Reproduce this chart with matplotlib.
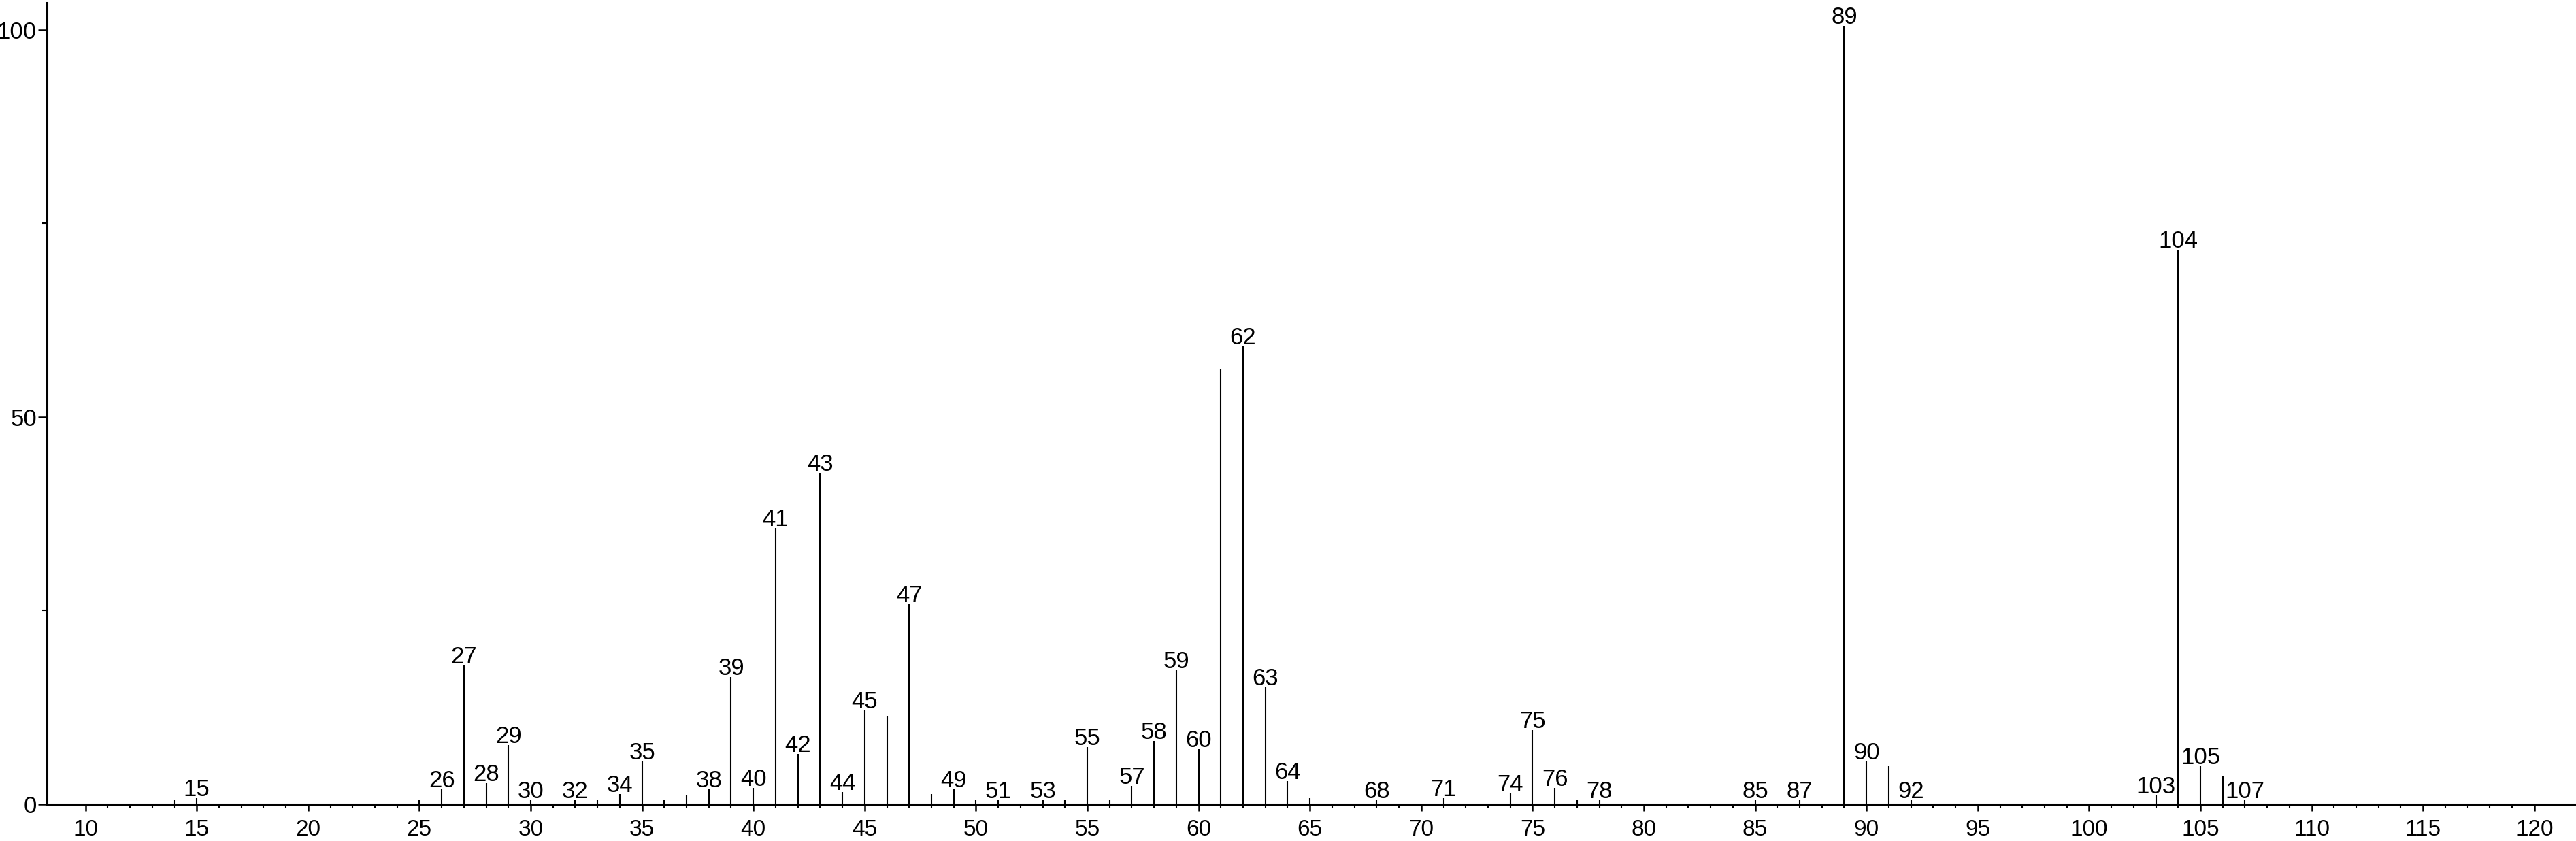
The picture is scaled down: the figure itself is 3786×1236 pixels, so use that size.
import matplotlib
matplotlib.use("Agg")
import matplotlib.pyplot as plt
import numpy as np

# Mass spectrum: m/z and relative intensity (%)
mz = [14, 15, 25, 26, 27, 28, 29, 30, 32, 33, 34, 35, 36, 37, 38, 39, 40,
      41, 42, 43, 44, 45, 46, 47, 48, 49, 50, 51, 53, 54, 55, 56, 57, 58,
      59, 60, 61, 62, 63, 64, 65, 68, 71, 74, 75, 76, 77, 78, 85, 87, 89,
      90, 91, 92, 103, 104, 105, 106, 107]
intensity = [0.5, 0.8, 0.5, 1.9, 17.9, 2.7, 7.6, 0.5, 0.5, 0.5, 1.3, 5.5,
             0.5, 1.1, 1.9, 16.4, 2.1, 35.7, 6.5, 42.8, 1.6, 12.1, 11.3,
             25.8, 1.35, 1.9, 0.5, 0.5, 0.5, 0.5, 7.4, 0.5, 2.4, 8.2, 17.3,
             7.1, 56.1, 59.1, 15.1, 3.0, 0.8, 0.5, 0.8, 1.4, 9.6, 2.1, 0.5,
             0.5, 0.5, 0.5, 100.5, 5.5, 4.9, 0.5, 1.1, 71.6, 4.9, 3.6, 0.5]
labeled = [15, 26, 27, 28, 29, 30, 32, 34, 35, 38, 39, 40, 41, 42, 43, 44,
           45, 47, 49, 51, 53, 55, 57, 58, 59, 60, 62, 63, 64, 68, 71, 74,
           75, 76, 78, 85, 87, 89, 90, 92, 103, 104, 105, 107]

x_major = list(range(10, 121, 5))
y_major = [0, 50, 100]
y_minor = [25, 75]

plt.rcParams['font.family'] = ['Liberation Sans', 'DejaVu Sans']

W, H = 3786, 1236
fig = plt.figure(figsize=(W / 100, H / 100), dpi=100)
ax = fig.add_axes([69 / W, 54 / H, 1 - 69 / W, 1178 / H])

ax.vlines(mz, 0, intensity, color='black', linewidth=1.5)
for m, h in zip(mz, intensity):
    if m in labeled:
        ax.annotate(str(m), (m, h), xytext=(0, 2.2), textcoords='offset points',
                    ha='center', va='baseline', fontsize=25)

ax.set_xlim(8.27, 121.87)
ax.set_ylim(0, 103.5)

ax.set_xticks(x_major)
ax.set_xticks(range(10, 121), minor=True)
ax.set_yticks(y_major)
ax.set_yticks(y_minor, minor=True)

ax.spines['top'].set_visible(False)
ax.spines['right'].set_visible(False)
ax.spines['left'].set_linewidth(2.2)
ax.spines['bottom'].set_linewidth(2.2)

ax.tick_params(axis='x', which='major', length=7.5, width=1.8, labelsize=24, pad=8)
ax.tick_params(axis='x', which='minor', length=3.6, width=1.5)
ax.tick_params(axis='y', which='major', length=9.4, width=1.8, labelsize=25, pad=1.5)
ax.tick_params(axis='y', which='minor', length=5, width=1.5)

fig.savefig("out.png", dpi=100)
